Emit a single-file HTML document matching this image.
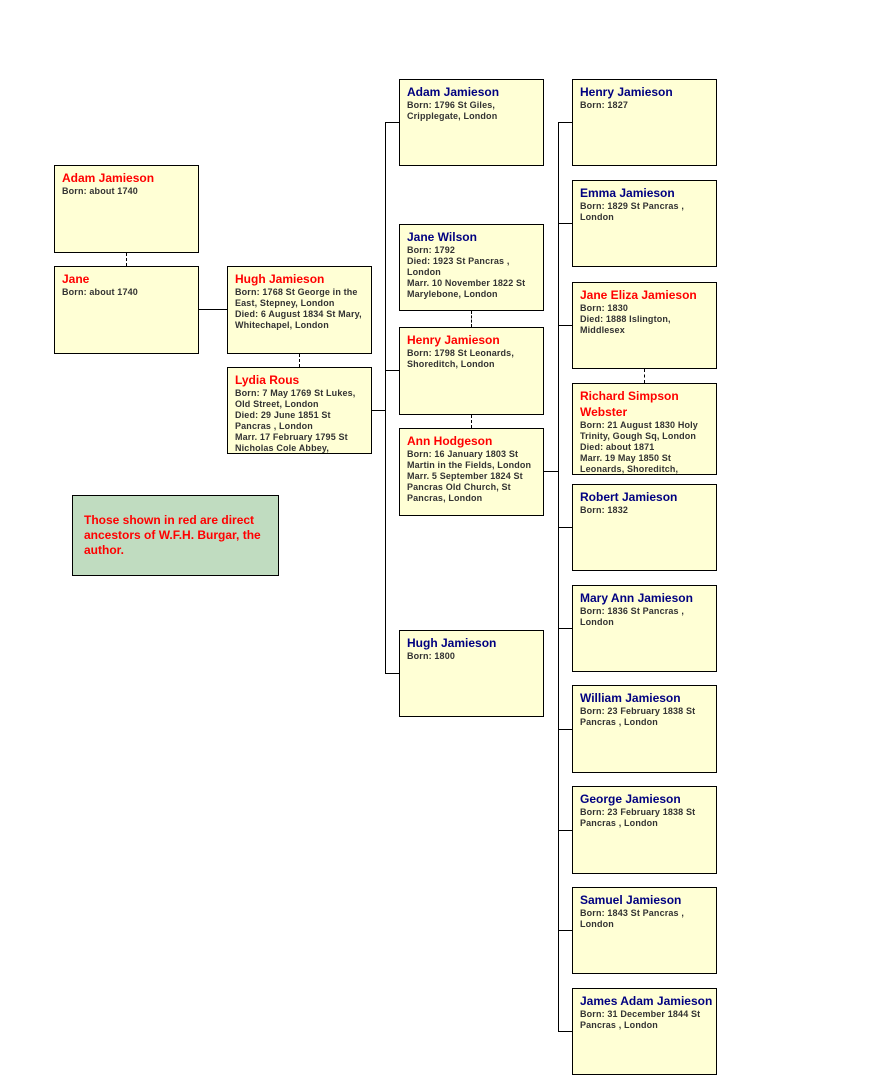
<!DOCTYPE html>
<html><head><meta charset="utf-8"><style>
body{margin:0;width:871px;height:1080px;background:#fff;position:relative;overflow:hidden;font-family:"Liberation Sans",Arial,sans-serif;}
.b{position:absolute;width:143px;border:1px solid #000;background:#ffffd5;box-sizing:content-box;overflow:hidden}
.b .n{position:absolute;left:7px;top:4px;font-size:12px;font-weight:bold;color:#000080;line-height:16px;width:136px}
.b .n.r{color:#ff0000}
.b .d{font-size:9px;font-weight:bold;color:#333;line-height:11px;margin:0;width:130px;letter-spacing:0.15px}
.l{position:absolute;background:#000}
.dv{position:absolute;width:0;border-left:1px dashed #000}
</style></head><body>
<div class="dv" style="left:126px;top:253px;height:13px"></div>
<div class="l" style="left:199px;top:309px;width:28px;height:1px"></div>
<div class="dv" style="left:299px;top:354px;height:13px"></div>
<div class="l" style="left:372px;top:410px;width:13px;height:1px"></div>
<div class="l" style="left:385px;top:122px;width:1px;height:552px"></div>
<div class="l" style="left:385px;top:122px;width:14px;height:1px"></div>
<div class="l" style="left:385px;top:370px;width:14px;height:1px"></div>
<div class="l" style="left:385px;top:673px;width:14px;height:1px"></div>
<div class="dv" style="left:471px;top:311px;height:16px"></div>
<div class="dv" style="left:471px;top:415px;height:13px"></div>
<div class="l" style="left:544px;top:471px;width:14px;height:1px"></div>
<div class="l" style="left:558px;top:122px;width:1px;height:910px"></div>
<div class="l" style="left:558px;top:122px;width:14px;height:1px"></div>
<div class="l" style="left:558px;top:223px;width:14px;height:1px"></div>
<div class="l" style="left:558px;top:325px;width:14px;height:1px"></div>
<div class="l" style="left:558px;top:527px;width:14px;height:1px"></div>
<div class="l" style="left:558px;top:628px;width:14px;height:1px"></div>
<div class="l" style="left:558px;top:729px;width:14px;height:1px"></div>
<div class="l" style="left:558px;top:830px;width:14px;height:1px"></div>
<div class="l" style="left:558px;top:930px;width:14px;height:1px"></div>
<div class="l" style="left:558px;top:1031px;width:14px;height:1px"></div>
<div class="dv" style="left:644px;top:369px;height:14px"></div>

<div class="b" style="left:54px;top:165px;height:86px"><div class="n r">Adam Jamieson<p class="d">Born: about 1740</p></div></div>
<div class="b" style="left:54px;top:266px;height:86px"><div class="n r">Jane<p class="d">Born: about 1740</p></div></div>
<div class="b" style="left:227px;top:266px;height:86px"><div class="n r">Hugh Jamieson<p class="d">Born: 1768 St George in the East, Stepney, London<br>Died: 6 August 1834 St Mary, Whitechapel, London</p></div></div>
<div class="b" style="left:227px;top:367px;height:85px"><div class="n r">Lydia Rous<p class="d">Born: 7 May 1769 St Lukes, Old Street, London<br>Died: 29 June 1851 St Pancras , London<br>Marr. 17 February 1795 St Nicholas Cole Abbey,</p></div></div>
<div class="b" style="left:399px;top:79px;height:85px"><div class="n">Adam Jamieson<p class="d">Born: 1796 St Giles, Cripplegate, London</p></div></div>
<div class="b" style="left:399px;top:224px;height:85px"><div class="n">Jane Wilson<p class="d">Born: 1792<br>Died: 1923 St Pancras , London<br>Marr. 10 November 1822 St Marylebone, London</p></div></div>
<div class="b" style="left:399px;top:327px;height:86px"><div class="n r">Henry Jamieson<p class="d">Born: 1798 St Leonards, Shoreditch, London</p></div></div>
<div class="b" style="left:399px;top:428px;height:86px"><div class="n r">Ann Hodgeson<p class="d" style="width:134px">Born: 16 January 1803 St Martin in the Fields, London<br>Marr. 5 September 1824 St Pancras Old Church, St Pancras, London</p></div></div>
<div class="b" style="left:399px;top:630px;height:85px"><div class="n">Hugh Jamieson<p class="d">Born: 1800</p></div></div>
<div class="b" style="left:572px;top:79px;height:85px"><div class="n">Henry Jamieson<p class="d">Born: 1827</p></div></div>
<div class="b" style="left:572px;top:180px;height:85px"><div class="n">Emma Jamieson<p class="d">Born: 1829 St Pancras , London</p></div></div>
<div class="b" style="left:572px;top:282px;height:85px"><div class="n r">Jane Eliza Jamieson<p class="d">Born: 1830<br>Died: 1888 Islington, Middlesex</p></div></div>
<div class="b" style="left:572px;top:383px;height:90px"><div class="n r">Richard Simpson Webster<p class="d">Born: 21 August 1830 Holy Trinity, Gough Sq, London<br>Died: about 1871<br>Marr. 19 May 1850 St Leonards, Shoreditch,</p></div></div>
<div class="b" style="left:572px;top:484px;height:85px"><div class="n">Robert Jamieson<p class="d">Born: 1832</p></div></div>
<div class="b" style="left:572px;top:585px;height:85px"><div class="n">Mary Ann Jamieson<p class="d">Born: 1836 St Pancras , London</p></div></div>
<div class="b" style="left:572px;top:685px;height:86px"><div class="n">William Jamieson<p class="d">Born: 23 February 1838 St Pancras , London</p></div></div>
<div class="b" style="left:572px;top:786px;height:86px"><div class="n">George Jamieson<p class="d">Born: 23 February 1838 St Pancras , London</p></div></div>
<div class="b" style="left:572px;top:887px;height:85px"><div class="n">Samuel Jamieson<p class="d">Born: 1843 St Pancras , London</p></div></div>
<div class="b" style="left:572px;top:988px;height:85px"><div class="n">James Adam Jamieson<p class="d">Born: 31 December 1844 St Pancras , London</p></div></div>

<div style="position:absolute;left:72px;top:495px;width:205px;height:79px;border:1px solid #000;background:#c0dcc0;">
<div style="position:absolute;left:11px;top:17px;width:180px;font-size:12px;font-weight:bold;color:#ff0000;line-height:15px">Those shown in red are direct ancestors of W.F.H. Burgar, the author.</div></div>
</body></html>
